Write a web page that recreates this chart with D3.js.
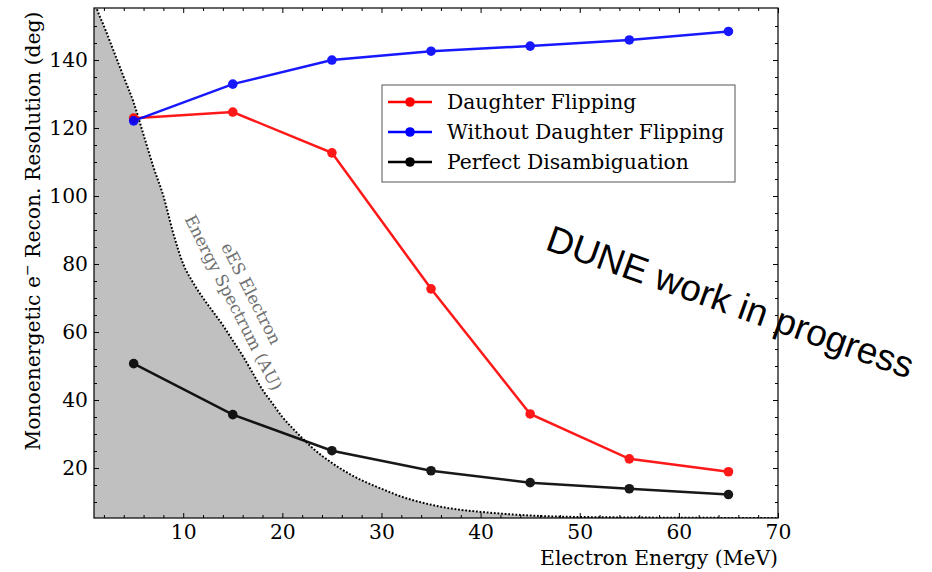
<!DOCTYPE html>
<html>
<head>
<meta charset="utf-8">
<script src="https://cdn.jsdelivr.net/npm/d3@7"></script>
<style>
  body { margin: 0; background: #fff; }
  svg text { font-family: "DejaVu Serif", serif; }
</style>
</head>
<body>
<div id="chart"></div>
<script>

// data
const energies = [5, 15, 25, 35, 45, 55, 65];
const daughterFlipping = [122.9, 124.7, 112.7, 72.7, 35.9, 22.7, 18.9];
const withoutFlipping = [122.1, 132.9, 140.0, 142.6, 144.1, 145.9, 148.4];
const perfectDisamb = [50.7, 35.7, 25.1, 19.2, 15.7, 13.9, 12.2];

// eES electron spectrum (arbitrary units, drawn on the same y scale)
const specE = [1, 1.3, 2, 3, 4, 5, 6, 7, 8, 9, 10, 11, 12, 13, 14, 15, 16, 17, 18, 19, 20,
	21, 22, 23, 24, 25, 26, 27, 28, 29, 30, 32, 34, 36, 38, 40, 42, 44, 46, 48, 50, 55, 60, 65, 70];
const specV = [158, 155, 150, 142.5, 135, 127.5, 118, 108.5, 100, 89, 80, 74.5, 70, 66, 62, 57.5, 53, 48, 43, 39, 35,
	31.8, 28.8, 26, 23.6, 21.5, 19.6, 17.9, 16.4, 15.1, 13.9, 11.6, 9.9, 8.6, 7.7, 7.1, 6.6, 6.2, 5.9, 5.7, 5.6, 5.45, 5.38, 5.33, 5.3];

const xTicks = [10, 20, 30, 40, 50, 60, 70];
const yTicks = [20, 40, 60, 80, 100, 120, 140];

const series = [
	{name: "Daughter Flipping", color: "#ff0000", values: daughterFlipping},
	{name: "Without Daughter Flipping", color: "#0000ff", values: withoutFlipping},
	{name: "Perfect Disambiguation", color: "#000000", values: perfectDisamb}
];

//sizing
const width = 932;
const height = 572;
const margin = {top: 8, right: 154, bottom: 54, left: 94};
const innerW = width - margin.left - margin.right;
const innerH = height - margin.top - margin.bottom;
const fs = 20.3;

let svg = d3.select("#chart")
	.append("svg")
	.attr("width", width)
	.attr("height", height);

let g = svg.append("g")
	.attr("transform", "translate(" + margin.left + "," + margin.top + ")");

let x = d3.scaleLinear().domain([1, 70]).range([0, innerW]);
let y = d3.scaleLinear().domain([5.3, 155.3]).range([innerH, 0]);

svg.append("defs").append("clipPath")
	.attr("id", "clip")
	.append("rect")
	.attr("width", innerW)
	.attr("height", innerH);

//spectrum shading
let spec = specE.map((e, i) => ({e: e, v: specV[i]}));

g.append("path")
	.datum(spec)
	.attr("clip-path", "url(#clip)")
	.attr("fill", "#c0c0c0")
	.attr("d", d3.area()
		.x(d => x(d.e))
		.y0(innerH)
		.y1(d => y(d.v))
		.curve(d3.curveMonotoneX));

g.append("path")
	.datum(spec)
	.attr("clip-path", "url(#clip)")
	.attr("fill", "none")
	.attr("stroke", "#000")
	.attr("stroke-width", 2)
	.attr("stroke-dasharray", "1.8,1.8")
	.attr("d", d3.line()
		.x(d => x(d.e))
		.y(d => y(d.v))
		.curve(d3.curveMonotoneX));

//spectrum label
let specLabel = svg.append("g")
	.attr("transform", "translate(242.5,298) rotate(63)");

specLabel.selectAll("text")
	.data(["eES Electron", "Energy Spectrum (AU)"])
	.enter().append("text")
	.attr("x", 0)
	.attr("y", (d, i) => i === 0 ? -10 : 10)
	.attr("text-anchor", "middle")
	.attr("dominant-baseline", "central")
	.attr("font-size", 16.8)
	.attr("fill", "#707070")
	.text(d => d);

//series
let line = d3.line()
	.x(d => x(d.e))
	.y(d => y(d.v));

series.forEach(s => {
	let pts = energies.map((e, i) => ({e: e, v: s.values[i]}));
	let sg = g.append("g").attr("opacity", 0.9);
	sg.append("path")
		.datum(pts)
		.attr("fill", "none")
		.attr("stroke", s.color)
		.attr("stroke-width", 2.5)
		.attr("d", line);
	sg.selectAll("circle")
		.data(pts)
		.enter().append("circle")
		.attr("cx", d => x(d.e))
		.attr("cy", d => y(d.v))
		.attr("r", 4.8)
		.attr("fill", s.color);
});

//axes, ticks inward on all four sides
function styleAxis(sel){
	sel.select(".domain").remove();
	sel.selectAll("text").attr("font-family", "DejaVu Serif").attr("font-size", fs).attr("fill", "#000");
	sel.selectAll("line").attr("stroke", "#000").attr("stroke-width", 1);
}

let xMinor = d3.range(2, 70, 2).filter(v => v % 10 !== 0);
let yMinor = d3.range(10, 155, 5).filter(v => v % 20 !== 0);

g.append("g")
	.attr("transform", "translate(0," + innerH + ")")
	.call(d3.axisBottom(x).tickValues(xTicks).tickSizeInner(-5).tickSizeOuter(0).tickPadding(7))
	.call(styleAxis);
g.append("g")
	.attr("transform", "translate(0," + innerH + ")")
	.call(d3.axisBottom(x).tickValues(xMinor).tickSizeInner(-3).tickSizeOuter(0).tickFormat(""))
	.call(styleAxis);
g.append("g")
	.call(d3.axisTop(x).tickValues(xTicks).tickSizeInner(-5).tickSizeOuter(0).tickFormat(""))
	.call(styleAxis);
g.append("g")
	.call(d3.axisTop(x).tickValues(xMinor).tickSizeInner(-3).tickSizeOuter(0).tickFormat(""))
	.call(styleAxis);

g.append("g")
	.call(d3.axisLeft(y).tickValues(yTicks).tickSizeInner(-5).tickSizeOuter(0).tickPadding(6))
	.call(styleAxis);
g.append("g")
	.call(d3.axisLeft(y).tickValues(yMinor).tickSizeInner(-3).tickSizeOuter(0).tickFormat(""))
	.call(styleAxis);
g.append("g")
	.attr("transform", "translate(" + innerW + ",0)")
	.call(d3.axisRight(y).tickValues(yTicks).tickSizeInner(-5).tickSizeOuter(0).tickFormat(""))
	.call(styleAxis);
g.append("g")
	.attr("transform", "translate(" + innerW + ",0)")
	.call(d3.axisRight(y).tickValues(yMinor).tickSizeInner(-3).tickSizeOuter(0).tickFormat(""))
	.call(styleAxis);

//frame
g.append("rect")
	.attr("width", innerW)
	.attr("height", innerH)
	.attr("fill", "none")
	.attr("stroke", "#000")
	.attr("stroke-width", 1.2);

//axis labels
svg.append("text")
	.attr("x", margin.left + innerW)
	.attr("y", 565)
	.attr("text-anchor", "end")
	.attr("font-size", fs)
	.text("Electron Energy (MeV)");

let yLabel = svg.append("text")
	.attr("transform", "translate(40,231) rotate(-90)")
	.attr("text-anchor", "middle")
	.attr("font-size", fs);
yLabel.append("tspan").text("Monoenergetic e");
yLabel.append("tspan").attr("font-size", 14).attr("dy", -8).text("\u2212");
yLabel.append("tspan").attr("dy", 8).text(" Recon. Resolution (deg)");

//legend
let legend = svg.append("g").attr("transform", "translate(382,85)");
legend.append("rect")
	.attr("width", 353)
	.attr("height", 97)
	.attr("fill", "#fff")
	.attr("stroke", "#555")
	.attr("stroke-width", 1);

let items = legend.selectAll(".item")
	.data(series)
	.enter().append("g")
	.attr("class", "item")
	.attr("transform", (d, i) => "translate(0," + (17 + i * 30) + ")");
items.append("line")
	.attr("x1", 6).attr("x2", 50)
	.attr("stroke", d => d.color)
	.attr("stroke-width", 2.5);
items.append("circle")
	.attr("cx", 28)
	.attr("r", 4.8)
	.attr("fill", d => d.color);
items.append("text")
	.attr("x", 65)
	.attr("dy", "0.35em")
	.attr("font-size", fs)
	.text(d => d.name);

//watermark
svg.append("text")
	.attr("transform", "translate(544,249) rotate(19.6)")
	.style("font-family", "'Liberation Sans', Arial, sans-serif")
	.attr("font-size", 37)
	.attr("fill", "#000")
	.text("DUNE work in progress");

</script>
</body>
</html>
